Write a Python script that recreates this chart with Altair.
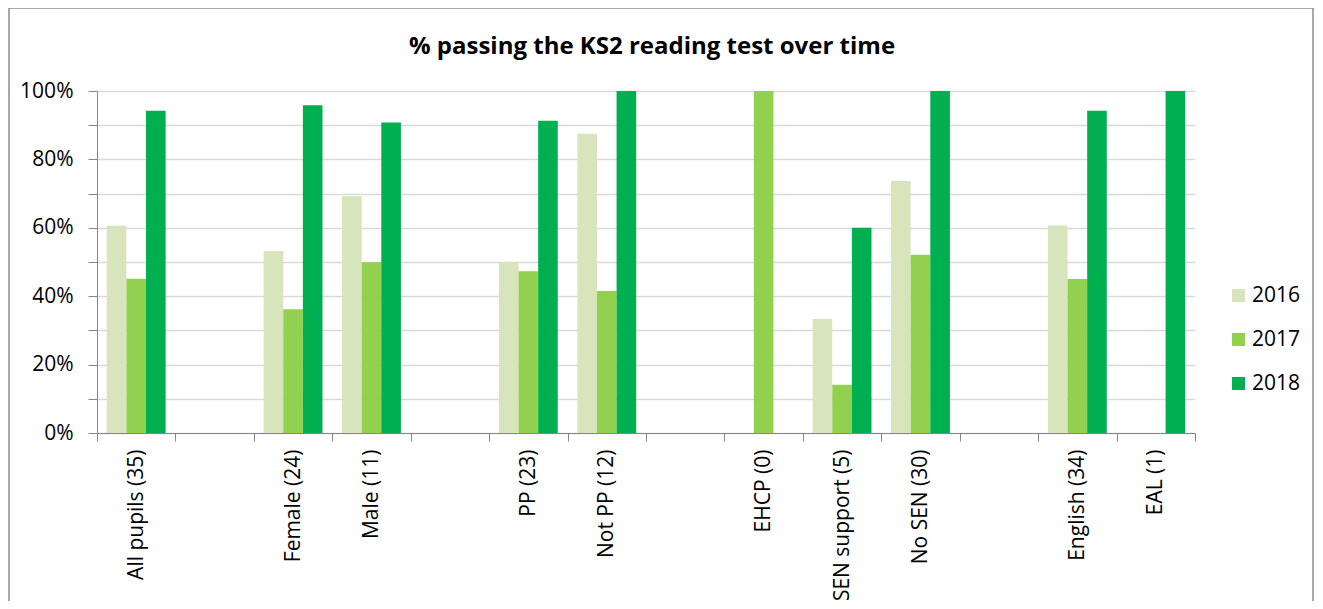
import altair as alt
import pandas as pd

categories = ["All pupils (35)", " ", "Female (24)", "Male (11)", "  ", "PP (23)",
              "Not PP (12)", "   ", "EHCP (0)", "SEN support (5)", "No SEN (30)",
              "    ", "English (34)", "EAL (1)"]
groups = ["All pupils (35)", "Female (24)", "Male (11)", "PP (23)", "Not PP (12)",
          "EHCP (0)", "SEN support (5)", "No SEN (30)", "English (34)", "EAL (1)"]
years = ["2016", "2017", "2018"]
v2016 = [0.606, 0.532, 0.692, 0.500, 0.875, 0.0, 0.333, 0.737, 0.607, 0.0]
v2017 = [0.451, 0.362, 0.499, 0.473, 0.415, 1.0, 0.141, 0.521, 0.450, 0.0]
v2018 = [0.942, 0.958, 0.908, 0.913, 1.000, 0.0, 0.600, 1.000, 0.942, 1.0]
colors = ["#D8E4BC", "#92D050", "#00B050"]
y_ticks = [0, 0.1, 0.2, 0.3, 0.4, 0.5, 0.6, 0.7, 0.8, 0.9, 1.0]
title_text = "% passing the KS2 reading test over time"

rows = []
for yr, vals in zip(years, [v2016, v2017, v2018]):
    for g, v in zip(groups, vals):
        rows.append({"group": g, "year": yr, "value": v})
df = pd.DataFrame(rows)

FONT = "Open Sans"
W, H = 1098, 342

bars = alt.Chart(df).mark_bar().encode(
    x=alt.X("group:N", sort=categories,
            scale=alt.Scale(domain=categories, paddingInner=0, paddingOuter=0),
            axis=alt.Axis(title=None, labelAngle=-90, tickBand="extent", tickSize=8,
                          labelPadding=8, domainColor="#868686", tickColor="#868686",
                          labelFont=FONT, labelFontSize=21, labelColor="#000000",
                          grid=False)),
    xOffset=alt.XOffset("year:N", scale=alt.Scale(domain=years, paddingOuter=0.5, paddingInner=0)),
    y=alt.Y("value:Q", scale=alt.Scale(domain=[0, 1], nice=False),
            axis=alt.Axis(title=None, values=y_ticks,
                          labelExpr="round(datum.value*100) % 20 == 0 ? format(datum.value, '.0%') : ''",
                          tickSize=9, labelPadding=15, domainColor="#868686", tickColor="#868686",
                          gridColor="#D9D9D9", gridWidth=1.5,
                          labelFont=FONT, labelFontSize=21, labelColor="#000000")),
    color=alt.Color("year:N", scale=alt.Scale(domain=years, range=colors),
                    legend=alt.Legend(title=None, orient="none", legendX=1131, legendY=194,
                                      symbolType="square", symbolSize=170, symbolStrokeWidth=0,
                                      labelFont=FONT, labelFontSize=21, labelColor="#000000",
                                      rowPadding=22, labelOffset=3, padding=0)),
)

border = alt.Chart(alt.Data(values=[{"a": 1}])).mark_rect(
    filled=False, stroke="#8C8C8C", strokeWidth=1.5, clip=False
).encode(x=alt.value(-88), x2=alt.value(1216), y=alt.value(-83), y2=alt.value(560))

title = alt.Chart(alt.Data(values=[{"t": title_text}])).mark_text(
    font=FONT, fontSize=24, fontWeight="bold", color="#000000",
    align="center", baseline="middle"
).encode(text="t:N", x=alt.value(555), y=alt.value(-44))

chart = alt.layer(border, bars, title).properties(
    width=W, height=H,
    autosize=alt.AutoSizeParams(type="none"),
    padding={"left": 89, "top": 83, "right": 120, "bottom": 168},
).configure_view(stroke=None)

chart.save("out.html", embed_options={"renderer": "svg", "actions": False})
